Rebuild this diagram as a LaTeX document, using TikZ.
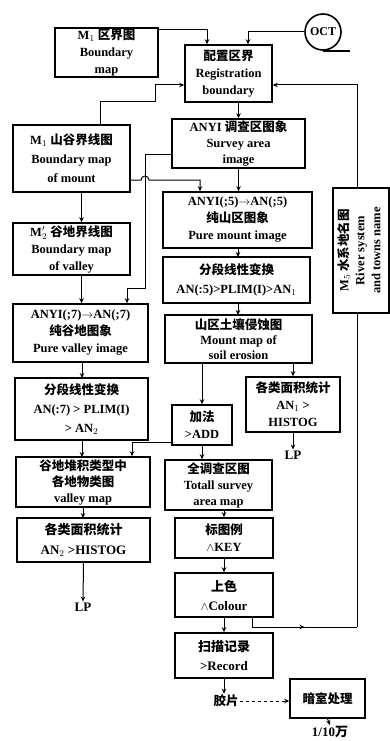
\documentclass[tikz,border=0pt]{standalone}
\usepackage{fontspec}
\usepackage{graphicx}
\setmainfont{Liberation Serif}
\newfontfamily\cjk{Noto Sans CJK SC}
\newcommand\zhs[1]{{\cjk #1}}
\usetikzlibrary{arrows.meta,decorations.markings,calc}
\begin{document}
\begin{tikzpicture}[x=1pt,y=-1pt,
  box/.style={draw, line width=1.6pt, align=center, inner sep=0pt,
    font=\fontsize{12.5}{17}\selectfont\bfseries},
  conn/.style={line width=1pt},
  arr/.style={conn, -{Stealth[length=5pt,width=4.5pt]}},
  midarr/.style={conn, decoration={markings, mark=at position 0.5 with {\arrow{Stealth[length=5pt,width=4.5pt]}}}, postaction={decorate}},
  lbl/.style={font=\fontsize{13}{15}\selectfont\bfseries, inner sep=1pt}]
\useasboundingbox (0,0) rectangle (390,741);

% left column
\node[box, minimum width=103pt, minimum height=49pt] (m1) at (106.5,52.5) {M$_1$ \zhs{区界图}\\Boundary\\map};
\node[draw, circle, line width=1.6pt, minimum size=36pt, inner sep=0pt, font=\fontsize{12}{13}\selectfont\bfseries] (oct) at (323,32) {OCT};
\draw[line width=2pt] (oct.south) -- ++(27,0);
\node[box, minimum width=87pt, minimum height=57pt] (reg) at (228.5,73.5) {\zhs{配置区界}\\Registration\\boundary};

\node[box, minimum width=117pt, minimum height=67pt, font=\fontsize{12.5}{19}\selectfont\bfseries] (m2) at (71.5,158.5) {M$_1$ \zhs{山谷界线图}\\Boundary map\\of mount};
\node[box, minimum width=117pt, minimum height=52pt] (m2p) at (71.5,249) {M$'_2$ \zhs{谷地界线图}\\Boundary map\\of valley};
\node[box, minimum width=135pt, minimum height=58pt] (pv) at (80.5,333) {ANYI(;7)$\rightarrow$AN(;7)\\\zhs{纯谷地图象}\\Pure valley image};
\node[box, minimum width=133pt, minimum height=62pt, font=\fontsize{12.5}{19}\selectfont\bfseries] (plv) at (81.5,409) {\zhs{分段线性变换}\\AN(:7) > PLIM(I)\\> AN$_2$};
\node[box, minimum width=134pt, minimum height=50pt, font=\fontsize{12.5}{16}\selectfont\bfseries] (vmap) at (83,482) {\zhs{谷地堆积类型中}\\\zhs{各地物类图}\\valley map};
\node[box, minimum width=133pt, minimum height=44pt, font=\fontsize{13}{20}\selectfont\bfseries] (hist2) at (83.5,540) {\zhs{各类面积统计}\\AN$_2$ >HISTOG};
\node[lbl] (lp1) at (83,607) {LP};

% middle column
\node[box, minimum width=133pt, minimum height=49pt, font=\fontsize{12.5}{16}\selectfont\bfseries] (sa) at (238.5,143.5) {ANYI \zhs{调查区图象}\\Survey area\\image};
\node[box, minimum width=149pt, minimum height=56pt] (pm) at (237.5,220) {ANYI(;5)$\rightarrow$AN(;5)\\\zhs{纯山区图象}\\Pure mount image};
\node[box, minimum width=147pt, minimum height=46pt, font=\fontsize{12.5}{19}\selectfont\bfseries] (plm) at (236.5,280) {\zhs{分段线性变换}\\AN(:5)>PLIM(I)>AN$_1$};
\node[box, minimum width=147pt, minimum height=48pt, font=\fontsize{12.5}{15}\selectfont\bfseries] (soil) at (238.5,339) {\zhs{山区土壤侵蚀图}\\Mount map of\\soil erosion};
\node[box, minimum width=94pt, minimum height=55pt] (hist1) at (293,404.5) {\zhs{各类面积统计}\\AN$_1$ >\\HISTOG};
\node[lbl] (lp2) at (293,455) {LP};
\node[box, minimum width=60pt, minimum height=40pt] (add) at (202,425) {\zhs{加法}\\>ADD};
\node[box, minimum width=107pt, minimum height=50pt, font=\fontsize{12.5}{16}\selectfont\bfseries] (total) at (218.5,485) {\zhs{全调查区图}\\Totall survey\\area map};
\node[box, minimum width=98pt, minimum height=40pt] (key) at (224,538) {\zhs{标图例}\\$\wedge$KEY};
\node[box, minimum width=98pt, minimum height=44pt, font=\fontsize{13}{19}\selectfont\bfseries] (colour) at (224,595) {\zhs{上色}\\$\wedge$Colour};
\node[box, minimum width=98pt, minimum height=45pt, font=\fontsize{13}{19}\selectfont\bfseries] (rec) at (224,655.5) {\zhs{扫描记录}\\>Record};
\node[lbl, font=\fontsize{12.5}{13}\selectfont\cjk\bfseries] (film) at (226,701) {胶片};
\node[box, minimum width=75pt, minimum height=39pt] (dark) at (327.5,698.5) {\zhs{暗室处理}};
\node[lbl] (scale) at (330,732) {1/10\zhs{万}};

% right
\node[box, minimum width=56pt, minimum height=125pt] (m5) at (361,250.5) {\rotatebox{90}{\begin{tabular}{@{}c@{}}M$_5$ \zhs{水系地名图}\\[-1pt] River system\\[-1pt] and towns name\end{tabular}}};

% connectors top
\draw[arr] ($(m1.north east)+(0,2)$) -| ([xshift=-21.5pt]reg.north);
\draw[arr] (oct.west) -| ([xshift=19.5pt]reg.north);
\draw[arr] ([xshift=28.5pt]m2.north) |- (155,102) |- ([yshift=-11.5pt]reg.west);
\draw[arr] (sa.north |- reg.south) -- (sa.north);

% right loop
\coordinate (lc1) at ([xshift=28pt]colour.south |- 0,627);
\coordinate (lc2) at ([xshift=-4pt]m5.south |- 0,627);
\draw[conn] ([xshift=28pt]colour.south) -- (lc1);
\draw[midarr] (lc1) -- (lc2);
\draw[conn] (lc2) -- ([xshift=-4pt]m5.south);
\draw[arr] ([xshift=-4pt]m5.north) |- ([yshift=-11.5pt]reg.east);

% left column connectors
\draw[arr] ([xshift=10pt]m2.south) -- ([xshift=10pt]m2.south |- m2p.north);
\draw[arr] ([xshift=10pt]m2p.south) -- ([xshift=10pt]m2p.south |- pv.north);
\draw[arr] (82,362) -- (82,378);
\draw[arr] (82,440) -- (82,457);
\draw[arr] (83,507) -- (83,518);
\draw[arr] (hist2.south) -- (lp1.north);

% m2 -> pm with hop
\draw[arr] ([yshift=-21.5pt]m2.east) -- (141,180) arc[start angle=180, end angle=360, radius=4] -- (200,180) -- ([xshift=-37.5pt]pm.north);
% sa -> pv
\draw[arr] ([yshift=-10.5pt]sa.west) -| (145,288) -| ([xshift=46.5pt]pv.north);

% middle column connectors
\draw[arr] (sa.south) -- (sa.south |- pm.north);
\draw[arr] (238,248) -- (238,257);
\draw[arr] (238,303) -- (238,315);
\draw[arr] (soil.south -| hist1.north) -- (hist1.north);
\draw[arr] (hist1.south) -- (lp2.north);
\draw[arr] (soil.south -| add.north) -- (add.north);
\draw[arr] ([yshift=-17pt]add.west) -| ([xshift=49pt]vmap.north);
\draw[arr] (add.south) -- (add.south |- total.north);
\draw[arr] (total.south -| key.north) -- (key.north);
\draw[arr] (key.south) -- (colour.north);
\draw[arr] (colour.south) -- (rec.north);
\draw[arr] (rec.south) -- (rec.south |- film.north);
\draw[arr, dashed] (film.east) -- (film.east -| dark.west);
\draw[arr] (dark.south) -- (scale.north);
\end{tikzpicture}
\end{document}
